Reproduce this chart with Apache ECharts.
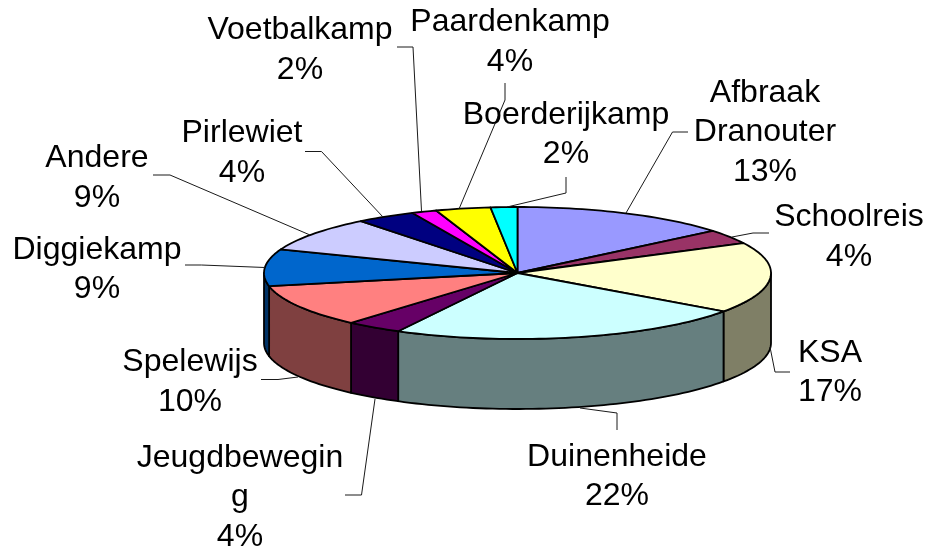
<!DOCTYPE html>
<html><head><meta charset="utf-8">
<style>html,body{margin:0;padding:0;background:#fff}#c{width:925px;height:549px}</style>
<script src="https://cdn.jsdelivr.net/npm/echarts@6/dist/echarts.min.js"></script>
</head><body><div id="c"></div>
<script>
const categories = ["Afbraak\nDranouter","Schoolreis","KSA","Duinenheide","Jeugdbewegin\ng","Spelewijs","Diggiekamp","Andere","Pirlewiet","Voetbalkamp","Paardenkamp","Boerderijkamp"];
const shares = [14.0,3.5,17.4,22.9,3.6,10.4,9.0,8.6,3.8,1.6,3.5,1.7];
const percentLabels = ["13%","4%","17%","22%","4%","10%","9%","9%","4%","2%","4%","2%"];
const topColors = ["#9999FF","#993366","#FFFFCC","#CCFFFF","#660066","#FF8080","#0066CC","#CCCCFF","#000080","#FF00FF","#FFFF00","#00FFFF"];
const wallColors = ["#4C4C7F","#4C1933","#7F7F66","#667F7F","#330033","#7F4040","#003366","#66667F","#000040","#7F007F","#7F7F00","#007F7F"];
// layout
const disc = {cx:517.5, cy:273, rx:253.5, ry:66, depth:70};
const labelAt = [[765,133],[849,237.5],[830,373],[617,477],[240,498],[190,382.5],[97,270],[97,178.5],[242,153.5],[300,50.5],[510,42.5],[566,135]];
const leaders = [
 [[626,213],[672.5,132],[688,132]],
 [[732,237],[753,233],[769,233]],
 [[770,347],[775,372],[790,372]],
 [[580,408],[617,413],[617,430]],
 [[375,399],[361.5,495],[345,495]],
 [[298,377],[278,379.5],[261,379.5]],
 [[265,267.5],[201.5,265],[185,265]],
 [[310,235],[170,175],[153,175]],
 [[383,217],[321.5,151.5],[305,151.5]],
 [[421.5,211],[413,47],[397,47]],
 [[459,209],[505,100],[505,83]],
 [[507,207],[566,193],[566,177]]
];
const total = shares.reduce((a,b)=>a+b,0);
const starts = []; shares.reduce((s,v,i)=>(starts[i]=s,s+v),0);
const pt = (deg,dy)=>{const r=deg*Math.PI/180;return [disc.cx+disc.rx*Math.sin(r),disc.cy-disc.ry*Math.cos(r)+(dy||0)];};
function arc(a,b,dy){const n=Math.max(2,Math.ceil((b-a)/1.5));const o=[];for(let i=0;i<=n;i++)o.push(pt(a+(b-a)*i/n,dy));return o;}
function renderItem(params,api){
  const i=params.dataIndex, v=api.value(0);
  const a=starts[i]/total*360, b=a+v/total*360;
  const edge={stroke:'#000',lineWidth:1.8,lineJoin:'round'};
  const kids=[];
  const wa=Math.max(a,90), wb=Math.min(b,270);
  if(wb>wa){
    const t=arc(wa,wb,0), bot=arc(wa,wb,disc.depth).reverse();
    kids.push({type:'polygon',z2:1,shape:{points:t.concat(bot)},style:Object.assign({fill:wallColors[i]},edge)});
  }
  kids.push({type:'polygon',z2:2+i,shape:{points:[[disc.cx,disc.cy]].concat(arc(a,b,0))},style:Object.assign({fill:topColors[i]},edge)});
  kids.push({type:'polyline',z2:20,shape:{points:leaders[i]},style:{stroke:'#1a1a1a',lineWidth:1,fill:null}});
  kids.push({type:'text',z2:30,x:labelAt[i][0],y:labelAt[i][1],scaleX:1.05,style:{x:0,y:0,text:categories[i]+"\n"+percentLabels[i],fill:'#000',
    font:'30.5px "Liberation Sans", Arial, sans-serif',lineHeight:39.5,align:'center',verticalAlign:'middle'}});
  return {type:'group',children:kids};
}
const chart=echarts.init(document.getElementById('c'),null,{renderer:'canvas'});
chart.setOption({animation:false,backgroundColor:'#fff',
 series:[{type:'custom',coordinateSystem:'none',renderItem,clip:false,
   data:shares.map((v,i)=>({name:categories[i],value:[v]}))}]});
</script></body></html>
